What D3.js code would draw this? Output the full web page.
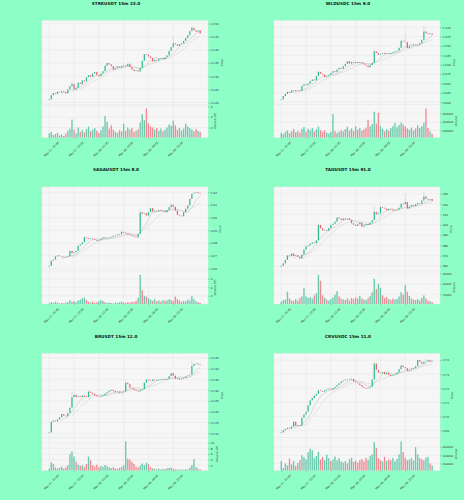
<!DOCTYPE html>
<html><head><meta charset="utf-8">
<script src="https://cdn.jsdelivr.net/npm/d3@7"></script>
<style>html,body{margin:0;padding:0;background:#8dfec6;} svg{display:block;}</style>
</head><body>
<svg id="c" width="464" height="500"></svg>
<script>
// ---------------- DATA ----------------
const titles = ["STRKUSDT 15m 23.0","WLDUSDC 15m 9.0","SAGAUSDT 15m 8.0","TAOUSDT 15m 91.0","BRUSDT 15m 12.0","CRVUSDC 15m 11.0"];
const dateLabels = ["May 27, 20:45","May 27, 23:45","May 28, 02:45","May 28, 05:45","May 28, 08:45","May 28, 11:45"];
const dateTickIndex = [0,12,24,36,48,60];

const strkClose = [0.1212,0.1228,0.1236,0.1233,0.1241,0.1238,0.1243,0.1240,0.1235,0.1250,
0.1262,0.1271,0.1250,0.1256,0.1275,0.1270,0.1284,0.1280,0.1296,0.1304,
0.1298,0.1310,0.1316,0.1304,0.1300,0.1310,0.1319,0.1340,0.1350,0.1345,
0.1338,0.1325,0.1330,0.1336,0.1332,0.1338,0.1341,0.1339,0.1347,0.1334,
0.1325,0.1319,0.1322,0.1318,0.1331,0.1359,0.1384,0.1381,0.1375,0.1369,
0.1356,0.1362,0.1359,0.1366,0.1369,0.1365,0.1372,0.1379,0.1396,0.1410,
0.1425,0.1421,0.1415,0.1422,0.1425,0.1434,0.1445,0.1456,0.1471,0.1484,
0.1475,0.1469,0.1474,0.1462];
const strkVolume = [0.9,1.2,0.6,0.8,1.0,0.5,0.7,0.4,0.9,1.4,
1.8,3.5,1.6,0.9,2.0,1.2,1.5,1.1,1.7,2.2,
1.3,1.6,1.9,1.4,1.0,1.5,2.2,4.2,3.1,1.8,
2.4,1.6,1.2,1.0,1.5,1.3,2.7,1.4,2.0,1.6,
1.9,1.2,1.4,1.7,3.0,4.5,3.4,5.6,2.8,2.2,
2.0,1.6,1.9,1.4,1.8,1.3,1.6,2.0,2.6,2.3,
3.3,2.4,1.6,1.9,1.4,1.8,2.7,2.2,1.9,1.6,
1.3,1.7,1.4,1.2];
const strkSpikes = [[60,0.1450],[69,0.1492],[11,0.1280]];
const strkPriceTicks = [0.120,0.125,0.130,0.135,0.140,0.145,0.150];
const strkVolumeTicks = [2,4,6];

const wldClose = [0.9075,0.9163,0.9220,0.9278,0.9250,0.9313,0.9290,0.9320,0.9313,0.9296,
0.9428,0.9472,0.9450,0.9490,0.9560,0.9605,0.9580,0.9693,0.9808,0.9760,
0.9737,0.9667,0.9690,0.9720,0.9780,0.9826,0.9800,0.9870,0.9914,0.9890,
0.9958,1.0020,1.0090,1.0029,1.0073,1.0050,1.0073,1.0046,1.0060,1.0029,
1.0002,0.9970,0.9932,0.9990,1.0046,1.0355,1.0310,1.0267,1.0290,1.0311,
1.0285,1.0300,1.0285,1.0311,1.0330,1.0355,1.0373,1.0450,1.0638,1.0620,
1.0603,1.0444,1.0488,1.0510,1.0532,1.0520,1.0532,1.0576,1.0664,1.0885,
1.0841,1.0814,1.0830,1.0797];
const wldVolumeK = [150,120,170,200,140,180,230,160,190,150,
240,280,170,240,200,260,180,230,290,210,
170,200,150,130,170,585,190,140,170,210,
180,230,290,200,250,190,300,220,260,190,
230,270,450,300,350,640,360,620,300,240,
180,230,200,260,300,380,280,330,390,340,
300,250,220,270,200,250,320,260,300,380,
715,260,180,120];
const wldSpikes = [[60,1.082],[69,1.104],[45,1.041],[18,0.985]];
const wldPriceTicks = [0.900,0.925,0.950,0.975,1.000,1.025,1.050,1.075,1.100];
const wldVolumeTicks = [200000,400000,600000];

const sagaClose = [0.2621,0.2661,0.2670,0.2695,0.2703,0.2698,0.2692,0.2687,0.2690,0.2695,
0.2739,0.2721,0.2728,0.2739,0.2779,0.2790,0.2805,0.2845,0.2838,0.2832,
0.2836,0.2832,0.2825,0.2818,0.2826,0.2835,0.2845,0.2837,0.2841,0.2845,
0.2850,0.2858,0.2862,0.2867,0.2871,0.2889,0.2882,0.2876,0.2868,0.2863,
0.2858,0.2850,0.2845,0.2871,0.3042,0.3029,0.3035,0.3016,0.3042,0.3074,
0.3047,0.3055,0.3050,0.3060,0.3052,0.3055,0.3042,0.3060,0.3082,0.3100,
0.3085,0.3055,0.3021,0.3015,0.3011,0.3042,0.3070,0.3095,0.3147,0.3187,
0.3195,0.3200,0.3192,0.3187];
const sagaVolume = [0.2,0.5,0.3,0.6,0.4,0.2,0.3,0.2,0.4,0.5,
1.0,0.6,0.7,0.5,0.9,1.1,1.4,1.6,1.0,0.6,
0.4,0.6,0.3,0.5,0.7,1.0,0.8,0.5,0.3,0.4,
0.3,0.2,0.4,0.3,0.5,0.6,0.4,0.3,0.5,0.4,
0.6,0.5,0.8,1.5,6.9,3.3,2.0,1.8,1.4,1.1,
0.8,1.2,0.7,0.9,0.6,1.0,0.8,0.9,1.2,1.0,
0.8,1.8,1.2,0.9,0.6,0.8,0.7,1.1,0.9,1.9,
1.2,0.7,0.5,0.3];
const sagaSpikes = [[44,0.3068],[59,0.3112],[17,0.2852]];
const sagaPriceTicks = [0.26,0.27,0.28,0.29,0.30,0.31,0.32];
const sagaVolumeTicks = [2,4,6];

const taoClose = [360.2,362.7,366.0,370.3,369.5,372.2,369.7,370.5,369.0,367.1,
371.0,376.0,379.2,380.0,381.7,383.0,382.2,384.9,399.8,396.7,
394.5,395.1,394.0,396.7,399.8,401.0,403.0,407.1,406.0,404.6,
406.2,405.2,406.0,404.6,401.4,400.0,398.9,400.5,402.1,398.2,
399.5,400.8,399.8,402.1,404.6,412.5,410.0,411.0,417.3,416.5,
415.7,414.1,415.5,414.8,413.5,414.1,414.8,416.5,420.5,419.8,
422.1,415.7,417.5,418.9,418.0,419.8,421.1,420.5,423.6,427.5,
425.2,424.3,425.0,423.0];
const taoVolumeK = [3.0,4.5,5.0,12.5,6.0,4.2,3.5,5.5,4.0,6.5,
8.0,16.0,8.0,6.5,7.5,6.0,9.0,11.0,28.5,23.0,
9.0,6.5,5.0,4.0,5.5,7.0,9.5,13.0,8.0,6.0,
5.0,4.5,6.0,4.0,6.5,5.5,7.0,6.0,8.5,6.0,
5.0,4.5,6.5,8.5,12.0,25.0,15.0,20.0,16.0,9.0,
6.5,7.5,5.5,4.5,6.0,5.0,5.5,8.0,12.0,9.5,
19.0,12.5,8.5,6.0,5.0,4.5,5.5,4.0,6.5,9.0,
6.0,4.0,3.5,2.5];
const taoSpikes = [[60,430.0],[69,431.6],[45,418.0],[18,401.5]];
const taoPriceTicks = [360,370,380,390,400,410,420,430];
const taoVolumeTicks = [10000,20000,30000];

const brClose = [0.1104,0.1153,0.1159,0.1155,0.1164,0.1174,0.1189,0.1182,0.1179,0.1194,
0.1219,0.1268,0.1279,0.1268,0.1272,0.1268,0.1276,0.1271,0.1268,0.1294,
0.1288,0.1283,0.1276,0.1271,0.1268,0.1272,0.1276,0.1285,0.1291,0.1298,
0.1302,0.1296,0.1291,0.1293,0.1288,0.1290,0.1294,0.1335,0.1328,0.1312,
0.1308,0.1302,0.1298,0.1294,0.1300,0.1305,0.1335,0.1350,0.1346,0.1343,
0.1350,0.1346,0.1348,0.1350,0.1352,0.1353,0.1350,0.1353,0.1366,0.1380,
0.1368,0.1353,0.1356,0.1350,0.1354,0.1358,0.1365,0.1369,0.1373,0.1413,
0.1422,0.1425,0.1420,0.1417];
const brVolume = [0.8,3.1,2.5,1.2,0.9,1.1,1.5,0.8,1.3,2.0,
5.9,6.9,5.1,3.3,2.2,1.8,2.0,1.4,2.4,5.1,
3.8,2.0,1.5,2.2,1.3,1.7,1.4,2.1,1.6,1.2,
1.0,1.3,0.9,0.7,1.1,1.4,2.0,10.5,4.3,4.0,
3.2,2.5,1.5,1.2,1.9,2.6,2.0,2.9,2.4,1.3,
0.9,0.7,0.6,0.8,0.5,0.7,0.6,0.9,1.0,1.2,
0.7,0.5,0.6,0.4,0.5,0.4,0.6,0.5,1.2,2.0,
4.2,1.3,0.8,0.5];
const brSpikes = [[11,0.1290],[37,0.1348],[69,0.1447],[19,0.1300]];
const brPriceTicks = [0.110,0.115,0.120,0.125,0.130,0.135,0.140,0.145];
const brVolumeTicks = [2,4,6,8,10];

const crvClose = [0.6886,0.6900,0.6910,0.6919,0.6912,0.6927,0.6962,0.6932,0.6938,0.6932,
0.6990,0.7013,0.7033,0.7078,0.7114,0.7130,0.7147,0.7160,0.7185,0.7180,
0.7176,0.7185,0.7192,0.7197,0.7190,0.7200,0.7210,0.7222,0.7235,0.7248,
0.7255,0.7261,0.7258,0.7263,0.7266,0.7248,0.7240,0.7235,0.7222,0.7210,
0.7202,0.7197,0.7203,0.7210,0.7261,0.7375,0.7330,0.7311,0.7306,0.7315,
0.7299,0.7311,0.7295,0.7286,0.7292,0.7299,0.7311,0.7335,0.7362,0.7350,
0.7342,0.7324,0.7330,0.7337,0.7345,0.7357,0.7400,0.7388,0.7375,0.7387,
0.7392,0.7400,0.7390,0.7395];
const crvVolumeK = [256,90,200,150,320,180,260,140,210,280,
400,350,300,470,560,520,330,380,480,300,
360,280,416,330,260,300,370,280,330,250,
220,260,200,300,336,240,270,220,280,310,
250,336,290,380,420,720,576,330,280,250,
360,260,300,280,330,250,310,420,736,480,
340,280,300,330,270,600,420,330,300,280,
340,360,200,150];
const crvSpikes = [[34,0.7276],[70,0.7410],[45,0.7385]];
const crvPriceTicks = [0.69,0.70,0.71,0.72,0.73,0.74];
const crvVolumeTicks = [200000,400000,600000];

const maPeriods = [7, 12];

const charts = [
  {title:titles[0], close:strkClose, volume:strkVolume, volUnit:1, spikes:strkSpikes, priceTicks:strkPriceTicks, volumeTicks:strkVolumeTicks, dec:3, volLabel:"Volume  10\u2076"},
  {title:titles[1], close:wldClose, volume:wldVolumeK, volUnit:1000, spikes:wldSpikes, priceTicks:wldPriceTicks, volumeTicks:wldVolumeTicks, dec:3, volLabel:"Volume"},
  {title:titles[2], close:sagaClose, volume:sagaVolume, volUnit:1, spikes:sagaSpikes, priceTicks:sagaPriceTicks, volumeTicks:sagaVolumeTicks, dec:2, volLabel:"Volume  10\u2076"},
  {title:titles[3], close:taoClose, volume:taoVolumeK, volUnit:1000, spikes:taoSpikes, priceTicks:taoPriceTicks, volumeTicks:taoVolumeTicks, dec:0, volLabel:"Volume"},
  {title:titles[4], close:brClose, volume:brVolume, volUnit:1, spikes:brSpikes, priceTicks:brPriceTicks, volumeTicks:brVolumeTicks, dec:3, volLabel:"Volume  10\u2076"},
  {title:titles[5], close:crvClose, volume:crvVolumeK, volUnit:1000, spikes:crvSpikes, priceTicks:crvPriceTicks, volumeTicks:crvVolumeTicks, dec:2, volLabel:"Volume"}
];

// ---------------- DRAW ----------------
const BG = "#8dfec6", UP = "#2eb88d", DOWN = "#f05c6b";
const FONT = "DejaVu Sans, sans-serif";
const svg = d3.select("#c");
svg.append("rect").attr("width",464).attr("height",500).attr("fill",BG);

function sma(arr, n){ return arr.map((v,i)=> i < n-1 ? null : d3.mean(arr.slice(i-n+1, i+1))); }

charts.forEach((c, k) => {
  const col = k % 2, row = Math.floor(k / 2);
  const ox = col * 232, oy = row * 166.5;
  const g = svg.append("g").attr("transform", `translate(${ox},${oy})`);
  const L = 42, R = 208, T = 20.5, S = 104.5, B = 137.5;
  const N = c.close.length;
  const open = c.close.map((v,i)=> i === 0 ? v : c.close[i-1]);
  const vol = c.volume.map(v => v * c.volUnit);
  const spikeMap = new Map(c.spikes.map(s => [s[0], s[1]]));
  const high = c.close.map((v,i)=> Math.max(v, open[i], spikeMap.get(i) ?? -Infinity));
  const low = c.close.map((v,i)=> Math.min(v, open[i]));

  const x = d3.scaleLinear().domain([-3.5, N + 2.8]).range([L, R]);
  const step = x(1) - x(0);
  const lo = d3.min(low), hi = d3.max(high), pad = (hi - lo) * 0.07;
  const y = d3.scaleLinear().domain([lo - pad, hi + pad]).range([S, T]);
  const yv = d3.scaleLinear().domain([0.3 * d3.min(vol), 1.1 * d3.max(vol)]).range([B, S + 1]);

  svg.append("text").attr("x", ox + 116).attr("y", oy + 4.6)
    .attr("text-anchor","middle").attr("font-family",FONT).attr("font-weight","bold")
    .attr("font-size", 4.2).attr("fill","#111").text(c.title);

  g.append("rect").attr("x",L).attr("y",T).attr("width",R-L).attr("height",S-T)
    .attr("fill","#f6f6f6").attr("stroke","#e8e8e8").attr("stroke-width",0.4);
  g.append("rect").attr("x",L).attr("y",S).attr("width",R-L).attr("height",B-S)
    .attr("fill","#f6f6f6").attr("stroke","#e8e8e8").attr("stroke-width",0.4);

  const grid = g.append("g").attr("stroke","#e0e0e0").attr("stroke-width",0.35);
  c.priceTicks.forEach(t => grid.append("line").attr("x1",L).attr("x2",R).attr("y1",y(t)).attr("y2",y(t)));
  c.volumeTicks.forEach(t => grid.append("line").attr("x1",L).attr("x2",R).attr("y1",yv(t)).attr("y2",yv(t)));
  dateTickIndex.forEach(t => grid.append("line").attr("x1",x(t)).attr("x2",x(t)).attr("y1",T).attr("y2",B));

  const vb = g.append("g");
  vol.forEach((v,i) => {
    vb.append("rect").attr("x", x(i) - step*0.33).attr("width", step*0.66)
      .attr("y", yv(v)).attr("height", Math.max(0, B - yv(v)))
      .attr("fill", c.close[i] >= open[i] ? UP : DOWN).attr("fill-opacity", 0.7);
  });

  const line = d3.line().defined(d => d[1] != null).x(d => x(d[0])).y(d => y(d[1]));
  maPeriods.forEach((p, j) => {
    g.append("path").datum(sma(c.close, p).map((v,i)=>[i,v])).attr("d", line)
      .attr("fill","none").attr("stroke", j === 0 ? "#bdbdbd" : "#cdcdcd").attr("stroke-width",0.5);
  });

  c.spikes.forEach(s => {
    const i = s[0];
    g.append("line").attr("x1", x(i)).attr("x2", x(i))
      .attr("y1", y(Math.max(open[i], c.close[i]))).attr("y2", y(s[1]))
      .attr("stroke","#c4c4c4").attr("stroke-width",0.5);
  });

  c.close.forEach((v,i) => {
    const top = y(Math.max(v, open[i])), bot = y(Math.min(v, open[i]));
    g.append("rect").attr("x", x(i) - step*0.3).attr("width", step*0.6)
      .attr("y", top).attr("height", Math.max(0.7, bot - top))
      .attr("fill", v >= open[i] ? UP : DOWN);
  });

  const fmtP = d3.format("." + c.dec + "f");
  const pa = g.append("g").attr("transform",`translate(${R},0)`)
    .call(d3.axisRight(y).tickValues(c.priceTicks).tickFormat(fmtP).tickSize(1.5).tickPadding(1.2));
  const va = g.append("g").attr("transform",`translate(${R},0)`)
    .call(d3.axisRight(yv).tickValues(c.volumeTicks).tickFormat(d3.format("d")).tickSize(1.5).tickPadding(1.2));
  [pa, va].forEach(a => {
    a.select(".domain").remove();
    a.selectAll("line").attr("stroke","#555").attr("stroke-width",0.3);
    a.selectAll("text").attr("font-size",2.8).attr("font-family",FONT).attr("fill","#333");
  });
  let maxW = 0;
  pa.selectAll("text").each(function(){ maxW = Math.max(maxW, this.getComputedTextLength()); });
  let maxWv = 0;
  va.selectAll("text").each(function(){ maxWv = Math.max(maxWv, this.getComputedTextLength()); });

  g.append("text").attr("transform",`translate(${R + 3.5 + maxW + 3},${(T+S)/2}) rotate(-90)`)
    .attr("text-anchor","middle").attr("font-size",2.8).attr("font-family",FONT).attr("fill","#333").text("Price");
  g.append("text").attr("transform",`translate(${R + 3.5 + maxWv + 3},${(S+B)/2}) rotate(-90)`)
    .attr("text-anchor","middle").attr("font-size",2.8).attr("font-family",FONT).attr("fill","#333").text(c.volLabel);

  const da = g.append("g").attr("transform",`translate(0,${B})`)
    .call(d3.axisBottom(x).tickValues(dateTickIndex).tickFormat((d,i)=>dateLabels[i]).tickSize(1.2));
  da.select(".domain").remove();
  da.selectAll("line").attr("stroke","#555").attr("stroke-width",0.3);
  da.selectAll("text").attr("font-size",2.8).attr("font-family",FONT).attr("fill","#333")
    .attr("text-anchor","end").attr("dy",0)
    .attr("transform","translate(6.5,2.2) rotate(-45)");
});
</script>
</body></html>
